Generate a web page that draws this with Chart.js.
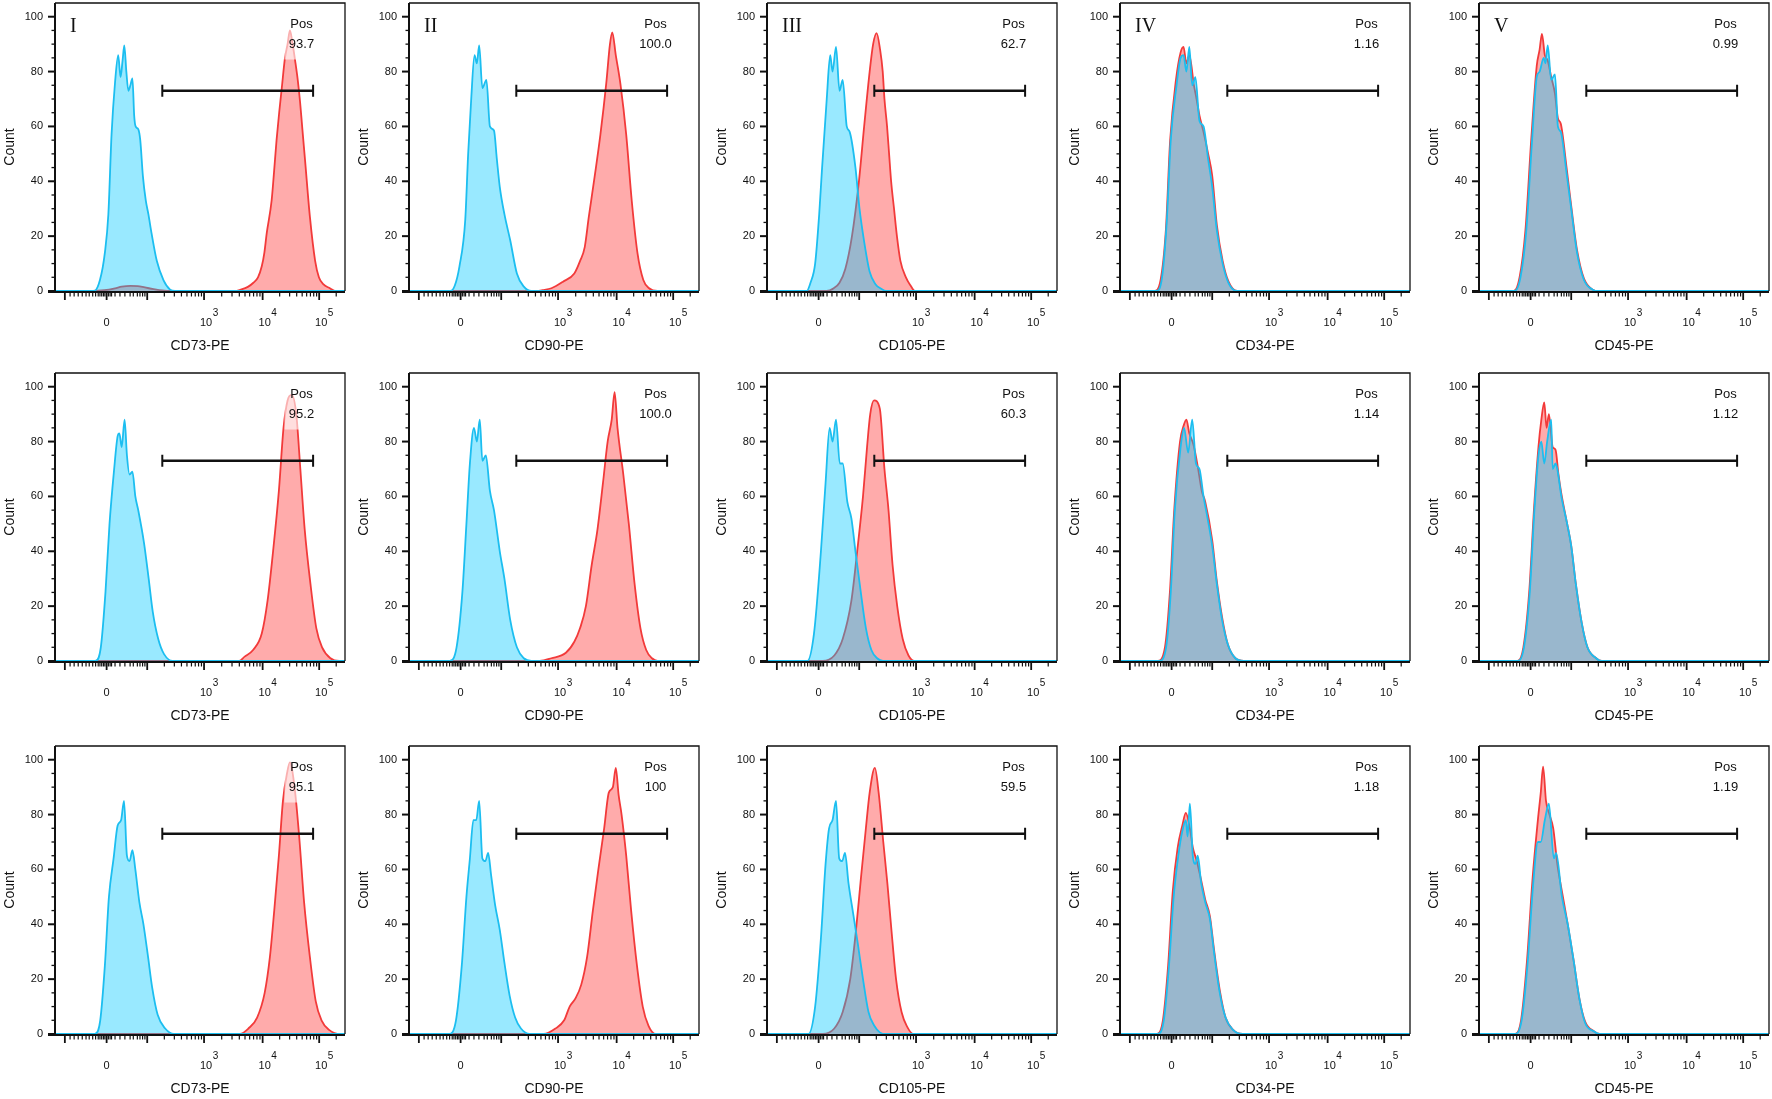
<!DOCTYPE html>
<html>
<head>
<meta charset="utf-8">
<script src="https://cdn.jsdelivr.net/npm/chart.js@4.4.0/dist/chart.umd.min.js"></script>
<style>
  body { margin: 0; background: #fff; width: 1772px; height: 1099px; overflow: hidden; position: relative; }
  .cell { position: absolute; width: 350px; height: 370px; }
</style>
</head>
<body>
<script>
// panel texts
const markerNames = ['CD73-PE', 'CD90-PE', 'CD105-PE', 'CD34-PE', 'CD45-PE'];
const panelNumerals = ['I', 'II', 'III', 'IV', 'V'];
const posRow1 = ['93.7', '100.0', '62.7', '1.16', '0.99'];
const posRow2 = ['95.2', '100.0', '60.3', '1.14', '1.12'];
const posRow3 = ['95.1', '100', '59.5', '1.18', '1.19'];

// axes (x is position along the biex axis, in percent of its length)
const yTickValues = [0, 20, 40, 60, 80, 100];
const xMajorTicks = [3.4, 17.8, 31.8, 51.4, 71.6, 91.1];
const xTickLabelAt = [17.8, 51.4, 71.6, 91.1];
const xTickBase = ['0', '10', '10', '10'];
const xTickExp = ['', '3', '4', '5'];
const xNearZeroTicks = [5.2, 6.6, 8.0, 9.4, 10.7, 11.8, 13.0, 14.0, 14.9, 15.5, 16.1, 16.7, 17.2,
  18.4, 19.0, 19.5, 20.7, 22.4, 24.1, 25.9, 27.0, 28.4, 29.3, 30.2, 31.0];
const gateRange = [37, 89];
const gateLevel = 73;

// histograms, [axis position, count]  -- blue = control, red = stained
const blueCD73Row1 = [[13.5,0],[15.5,4],[17.2,14],[18.4,28],[19.5,57],[20.7,76],[21.8,86],[22.6,78],[23.3,84],[23.9,89.5],[24.6,80],[25.3,73],[26.0,75],[26.7,77.5],[27.3,64],[27.8,60],[28.7,59],[29.4,55],[30.3,42],[31.3,33],[32.2,28],[33.3,21],[35.1,11],[37.4,4],[39.7,0.5],[41.4,0]];
const redCD73Row1 = [[13,0],[17,0.3],[20.7,1],[23,1.6],[26,1.9],[28.5,1.8],[31,1.3],[34,0.7],[37,0.2],[40,0],[62,0],[64,0.5],[66.5,1.5],[68.4,3],[70,5],[71.3,9],[72.2,14],[73,21],[74.7,33],[75.5,43],[76.4,55],[77.3,65],[78.2,74],[79.3,85],[80.2,90],[81,95],[81.8,91],[82.8,84],[83.7,77],[84.5,69],[85.3,59],[86.2,48],[87.9,27],[89.7,11],[91,5],[92.5,2.5],[94.8,1],[96.5,0]];
const blueCD90Row1 = [[14.3,0],[15.8,2],[17.4,9],[19.4,26],[20.4,50],[21.4,69],[22.6,86],[23.4,83],[24.2,89.5],[25.3,74],[26.7,77],[27.9,60],[29.3,58.5],[30.3,48],[31.3,38],[32.9,28],[34.9,18.5],[37.2,6.4],[39.6,1.6],[42.2,0]];
const redCD90Row1 = [[44,0],[46.1,0.3],[49.1,1],[53.1,3.4],[57,6.4],[59,11],[60.6,16],[62,27],[64,41.6],[66,57],[68,75.5],[69.3,90],[70.1,94.3],[71.3,86],[72.9,75.5],[74.9,57],[76.8,33],[78.8,13.7],[80.8,4],[82.8,1],[85.7,0]];
const blueCD105Row1 = [[13.7,0],[15,3],[16.6,10],[18,28],[19,45],[20.6,70],[21.8,86],[22.6,80],[23.8,89],[25,73],[26.1,77],[27.5,60],[28.5,58],[30.5,45],[31.9,30],[33.5,18],[35.4,7],[37.4,2.5],[39.4,0.8],[41,0]];
const redCD105Row1 = [[20.5,0],[23,1],[25,3],[27,8],[29.3,20],[31.7,40],[33.5,60],[35.4,80],[36.6,90],[37.8,94],[39,88],[39.9,80],[40.5,70],[41.4,60],[42.1,50],[42.8,40],[43.8,30],[44.8,20],[46,11],[47.9,5],[49.5,2],[51,0]];
const blueCD34Row1 = [[12.5,0],[14.5,5],[16.1,25],[17.5,55],[19.5,75],[20.9,85],[21.9,86],[22.9,80],[23.9,89],[24.9,75],[26,78],[27.4,62],[28.8,60],[30.4,48],[31.8,38],[33.4,22],[35.4,10],[37.4,3],[40.4,0]];
const redCD34Row1 = [[11.9,0],[14,4],[15.8,22],[17.3,55],[19.3,77],[20.9,87],[21.9,89],[22.9,83],[23.9,86],[25.5,75],[26.4,70],[27.4,64],[28.8,58],[30.4,50],[31.8,42],[33.4,24],[35.4,11],[37.4,3.5],[40.4,0]];
const blueCD45Row1 = [[12.3,0],[14.3,5],[16.3,22],[18.3,55],[19.9,78],[20.9,80],[22.3,85],[22.9,83],[23.7,89.5],[24.9,77],[26.2,79],[27.2,60],[28.2,58],[30.2,43],[31.8,30],[33.8,14],[36.2,4],[39.2,0.5],[41.2,0]];
const redCD45Row1 = [[12,0],[14,5],[16,22],[18,55],[19.9,82],[20.9,88],[21.7,93.7],[22.7,86],[23.7,84],[24.9,78],[26.2,72],[27.2,63],[28.2,61],[30.2,45],[31.8,31],[33.8,15],[36.2,4.5],[39.2,0.5],[41.2,0]];

const blueCD73Row2 = [[13.9,0],[15.8,5],[17.4,25],[18.8,50],[20.4,70],[21.6,82],[22.2,83],[23,78],[24,88],[24.8,75],[25.7,68],[26.7,69],[27.7,60],[28.7,55],[30.7,43],[32.3,30],[33.7,18],[35.6,8],[37.6,2.5],[40.6,0]];
const redCD73Row2 = [[63.4,0],[65.3,1.5],[68.3,4],[71.3,10],[73.3,22],[75.2,40],[77.2,62],[78.8,85],[80.2,95],[81.6,97],[83.2,90],[84.6,70],[86.1,48],[88.1,28],[90.1,12],[92.1,5],[95,1],[98,0]];
const blueCD90Row2 = [[14,0],[16.4,5],[18.4,25],[19.8,50],[21,72],[22.4,85],[23.4,80],[24.4,88],[25.3,73],[26.5,75],[27.9,62],[29.3,55],[31.3,40],[32.9,30],[34.9,15],[37.2,5],[39.6,1],[42.2,0]];
const redCD90Row2 = [[45.1,0],[49.1,1],[54.1,3],[57,7],[59,12],[61,20],[63,35],[65,48],[66.9,65],[68.5,80],[69.9,88],[70.9,98],[71.9,85],[73.9,68],[75.8,50],[77.8,28],[79.8,12],[81.8,4],[83.8,1],[85.7,0]];
const blueCD105Row2 = [[13.9,0],[16.2,10],[18.6,40],[20.2,65],[21.6,85],[22.6,80],[23.8,88],[25.1,72],[26.1,72],[27.7,58],[29.1,52],[30.5,40],[32.1,27],[34.1,12],[36,4],[38,1],[40,0]];
const redCD105Row2 = [[19.2,0],[23.2,2],[26.1,8],[29.1,22],[31.1,40],[33.1,60],[34.5,78],[35.6,90],[36.9,95],[38.9,92],[40.5,70],[41.9,55],[43.3,35],[44.9,20],[46.8,8],[48.8,2],[50.8,0]];
const blueCD34Row2 = [[13.5,0],[15.9,5],[17.5,25],[18.9,55],[20.9,78],[22.1,85],[23.5,76],[24.9,88],[26.2,72],[27.4,70],[28.8,60],[30.2,52],[31.8,42],[33.4,28],[35.2,15],[37.2,6],[39.8,1],[42.7,0]];
const redCD34Row2 = [[13,0],[15.5,5],[17.2,25],[18.7,55],[20.7,80],[22,86],[22.9,88],[23.9,83],[25.3,79],[26.8,71],[28.2,62],[29.4,58],[31.8,44],[33.4,29],[35.2,16],[37.2,6],[39.8,1],[42.7,0]];
const blueCD45Row2 = [[13.5,0],[15.5,5],[17.5,25],[19.1,55],[20.5,75],[21.5,80],[22.5,72],[23.5,80],[24.9,88],[25.4,70],[26.4,72],[27,70],[28.4,60],[30.4,50],[31.8,42],[33.4,28],[35.4,14],[37.4,5],[40.4,1],[42.3,0]];
const redCD45Row2 = [[13.3,0],[15.3,5],[17.3,25],[19,56],[20.5,78],[21.5,88],[22.5,94.3],[23.3,85],[24.1,90],[25.4,78],[26.4,77],[27.4,68],[28.4,61],[30.4,50],[31.8,42],[33.4,28],[35.4,14],[37.4,5],[40.4,1],[42.3,0]];

const blueCD73Row3 = [[13.7,0],[15.6,5],[17.2,25],[18.6,50],[20.2,64],[21.6,76],[22.8,78],[23.8,85],[24.8,65],[25.7,63],[26.7,67],[27.7,60],[29.1,48],[30.5,40],[32.1,28],[33.5,17],[35.4,7],[38,2],[41,0]];
const redCD73Row3 = [[63.8,0],[66.7,2],[69.7,6],[72.3,15],[74.1,28],[75.6,45],[77.2,65],[78.6,85],[80,95],[81,99],[82.6,90],[84.2,72],[85.9,48],[87.9,28],[89.9,12],[91.9,5],[94.5,1.5],[98.4,0]];
const blueCD90Row3 = [[13.9,0],[16.2,5],[18.2,25],[19.8,50],[21,64],[22.2,78],[23.2,78],[24.2,85],[25.3,64],[26.3,63],[27.3,66],[28.3,58],[29.7,47],[31.3,38],[32.9,26],[34.7,14],[36.6,6],[38.6,2],[41.6,0]];
const redCD90Row3 = [[46.5,0],[50.5,2],[53.5,5],[55.4,10],[57.4,13],[59.4,18],[61.4,28],[63.4,45],[65.3,60],[67.3,75],[68.9,88],[70.3,90],[71.3,97],[72.3,87],[73.3,80],[74.9,65],[76.6,45],[78.6,25],[80.6,10],[82.6,3],[85.1,0]];
const blueCD105Row3 = [[14.3,0],[16.6,10],[18.6,35],[20.2,62],[21.4,75],[22.6,78],[23.8,85],[24.9,64],[25.9,63],[26.9,66],[28.1,55],[29.7,44],[31.3,33],[33.1,20],[35,8],[37,3],[39,0.5],[41,0]];
const redCD105Row3 = [[19.2,0],[23.2,2],[26.1,8],[28.7,20],[30.7,38],[32.5,58],[34.1,75],[35.4,88],[37.2,97],[38.5,88],[40.1,70],[41.5,55],[42.9,38],[44.5,20],[46.4,8],[48.4,2.5],[50.4,0]];
const blueCD34Row3 = [[13.1,0],[15.1,5],[16.9,25],[18.5,50],[20.1,65],[21.5,74],[22.7,78],[23.3,72],[24.1,84],[25.1,65],[26,62],[26.8,65],[28,55],[29.4,48],[31,42],[32.4,30],[34.4,15],[36.4,6],[39,1.5],[42.3,0]];
const redCD34Row3 = [[12.8,0],[14.8,5],[16.6,25],[18.2,52],[19.9,68],[21.5,76],[22.7,80.6],[24.1,75],[25.1,68],[26.5,63],[28,56],[29.4,49],[31,43],[32.4,31],[34.4,16],[36.4,6],[39,1.5],[42.3,0]];
const blueCD45Row3 = [[12.7,0],[14.7,5],[16.7,25],[18.7,55],[20.3,70],[21.3,70],[22.7,78],[24.1,84],[25.8,64],[26.6,66],[28.6,50],[30.6,40],[32.6,27],[34.6,13],[36.6,4],[39.6,1],[41.6,0]];
const redCD45Row3 = [[12.5,0],[14.5,5],[16.5,26],[18.5,57],[20.3,78],[21.3,88],[22.1,97.5],[23.1,85],[24.3,80],[25.6,75],[27,62],[28.6,52],[30.6,40],[32.6,27],[34.6,13],[36.6,4.5],[39.6,1],[41.6,0]];

const blueCurves = [
  [blueCD73Row1, blueCD90Row1, blueCD105Row1, blueCD34Row1, blueCD45Row1],
  [blueCD73Row2, blueCD90Row2, blueCD105Row2, blueCD34Row2, blueCD45Row2],
  [blueCD73Row3, blueCD90Row3, blueCD105Row3, blueCD34Row3, blueCD45Row3]
];
const redCurves = [
  [redCD73Row1, redCD90Row1, redCD105Row1, redCD34Row1, redCD45Row1],
  [redCD73Row2, redCD90Row2, redCD105Row2, redCD34Row2, redCD45Row2],
  [redCD73Row3, redCD90Row3, redCD105Row3, redCD34Row3, redCD45Row3]
];
const posValues = [posRow1, posRow2, posRow3];

const colLeft = [0, 354, 712, 1065, 1424];
const rowTop = [0, 370, 743];

const SANS = '"Liberation Sans", Arial, sans-serif';
const SERIF = '"Liberation Serif", "Times New Roman", serif';
Chart.defaults.font.family = SANS;

// minor ticks inside each log decade
let xMinorTicks = xNearZeroTicks.slice();
for (let d = 2; d < xMajorTicks.length; d++) {
  const a = xMajorTicks[d];
  const span = d + 1 < xMajorTicks.length ? xMajorTicks[d + 1] - a : 19.5;
  for (let k = 2; k <= 9; k++) {
    const p = a + Math.log10(k) * span;
    if (p < 99.5) xMinorTicks.push(p);
  }
}

function toXY(pts) {
  const out = [{x: 0, y: 0}];
  pts.forEach(p => out.push({x: p[0], y: p[1]}));
  out.push({x: 100, y: 0});
  return out;
}

function decorPlugin(row, col) {
  return {
    id: 'flowDecor',
    afterDatasetsDraw(chart) {
      const ctx = chart.ctx, a = chart.chartArea;
      const xs = chart.scales.x, ys = chart.scales.y;
      ctx.save();

      // label box over the peak
      const tx = xs.getPixelForValue(85);
      const bt = ys.getPixelForValue(100.5), bb = ys.getPixelForValue(84.4);
      ctx.fillStyle = 'rgba(255,255,255,0.6)';
      ctx.fillRect(tx - 17, bt, 34, bb - bt);

      ctx.fillStyle = '#111';
      ctx.textAlign = 'center';
      ctx.textBaseline = 'middle';
      ctx.font = '13px ' + SANS;
      ctx.fillText('Pos', tx, ys.getPixelForValue(97.3));
      ctx.fillText(posValues[row][col], tx, ys.getPixelForValue(90));

      if (row === 0) {
        ctx.textAlign = 'left';
        ctx.font = '20px ' + SERIF;
        ctx.fillText(panelNumerals[col], a.left + 15, ys.getPixelForValue(96.2));
      }

      // gate
      const gy = ys.getPixelForValue(gateLevel);
      const g0 = xs.getPixelForValue(gateRange[0]), g1 = xs.getPixelForValue(gateRange[1]);
      ctx.strokeStyle = '#111';
      ctx.lineWidth = 2.5;
      ctx.beginPath();
      ctx.moveTo(g0, gy); ctx.lineTo(g1, gy);
      ctx.stroke();
      ctx.lineWidth = 2;
      ctx.beginPath();
      ctx.moveTo(g0, gy - 6); ctx.lineTo(g0, gy + 6);
      ctx.moveTo(g1, gy - 6); ctx.lineTo(g1, gy + 6);
      ctx.stroke();

      // frame
      ctx.lineWidth = 1.3;
      ctx.beginPath();
      ctx.moveTo(a.left, a.top); ctx.lineTo(a.right, a.top); ctx.lineTo(a.right, a.bottom);
      ctx.stroke();
      ctx.lineWidth = 2;
      ctx.beginPath();
      ctx.moveTo(a.left, a.top); ctx.lineTo(a.left, a.bottom + 2);
      ctx.moveTo(a.left - 7, a.bottom + 1); ctx.lineTo(a.right, a.bottom + 1);
      ctx.stroke();

      // y ticks
      for (let v = 0; v <= 100; v += 5) {
        const py = ys.getPixelForValue(v);
        const major = v % 20 === 0;
        ctx.lineWidth = major ? 2 : 1.3;
        ctx.beginPath();
        ctx.moveTo(a.left - (major ? 7 : 3.5), py);
        ctx.lineTo(a.left, py);
        ctx.stroke();
      }
      // x ticks
      const yb = a.bottom + 1;
      ctx.lineWidth = 1.2;
      xMinorTicks.forEach(p => {
        const px = xs.getPixelForValue(p);
        ctx.beginPath(); ctx.moveTo(px, yb); ctx.lineTo(px, yb + 4.5); ctx.stroke();
      });
      ctx.lineWidth = 1.8;
      xMajorTicks.forEach(p => {
        const px = xs.getPixelForValue(p);
        ctx.beginPath(); ctx.moveTo(px, yb); ctx.lineTo(px, yb + 8); ctx.stroke();
      });

      // x tick labels with exponents
      ctx.fillStyle = '#111';
      ctx.textBaseline = 'middle';
      xTickLabelAt.forEach((p, i) => {
        const px = xs.getPixelForValue(p);
        ctx.font = '11px ' + SANS;
        ctx.textAlign = 'center';
        const w = ctx.measureText(xTickBase[i]).width;
        const cx = xTickExp[i] ? px + 2 : px;
        ctx.fillText(xTickBase[i], cx, a.bottom + 32);
        if (xTickExp[i]) {
          ctx.font = '10px ' + SANS;
          ctx.textAlign = 'left';
          ctx.fillText(xTickExp[i], cx + w / 2 + 0.5, a.bottom + 22);
        }
      });

      // axis titles
      ctx.font = '14px ' + SANS;
      ctx.textAlign = 'center';
      ctx.fillText(markerNames[col], (a.left + a.right) / 2, a.bottom + 55);
      ctx.save();
      ctx.translate(10, (a.top + a.bottom) / 2);
      ctx.rotate(-Math.PI / 2);
      ctx.fillText('Count', 0, 0);
      ctx.restore();

      ctx.restore();
    }
  };
}

function makePanel(row, col) {
  const box = document.createElement('div');
  box.className = 'cell';
  box.style.left = colLeft[col] + 'px';
  box.style.top = rowTop[row] + 'px';
  const cv = document.createElement('canvas');
  cv.width = 350;
  cv.height = 370;
  box.appendChild(cv);
  document.body.appendChild(box);

  new Chart(cv, {
    type: 'line',
    data: {
      datasets: [
        {
          label: 'control',
          data: toXY(blueCurves[row][col]),
          borderColor: 'rgb(28,190,240)',
          backgroundColor: 'rgba(0,200,255,0.4)',
          borderWidth: 1.8,
          fill: 'origin',
          pointRadius: 0,
          cubicInterpolationMode: 'monotone'
        },
        {
          label: markerNames[col],
          data: toXY(redCurves[row][col]),
          borderColor: 'rgb(242,58,58)',
          backgroundColor: 'rgba(255,0,0,0.33)',
          borderWidth: 1.8,
          fill: 'origin',
          pointRadius: 0,
          cubicInterpolationMode: 'monotone'
        }
      ]
    },
    options: {
      responsive: false,
      animation: false,
      devicePixelRatio: 1,
      layout: { padding: { top: 3, right: 5, left: 0, bottom: 0 } },
      plugins: { legend: { display: false }, tooltip: { enabled: false } },
      scales: {
        x: {
          type: 'linear', min: 0, max: 100,
          grid: { display: false, drawTicks: false },
          border: { display: false },
          ticks: { display: false },
          afterFit: s => { s.height = 79; s.paddingLeft = 0; s.paddingRight = 0; }
        },
        y: {
          type: 'linear', min: 0, max: 105,
          grid: { display: false, drawTicks: false },
          border: { display: false },
          ticks: { font: { size: 11 }, color: '#111', padding: 12 },
          afterBuildTicks: s => { s.ticks = yTickValues.map(v => ({ value: v })); },
          afterFit: s => { s.width = 55; s.paddingTop = 0; s.paddingBottom = 0; }
        }
      }
    },
    plugins: [decorPlugin(row, col)]
  });
}

for (let r = 0; r < 3; r++) {
  for (let c = 0; c < 5; c++) makePanel(r, c);
}
</script>
</body>
</html>
